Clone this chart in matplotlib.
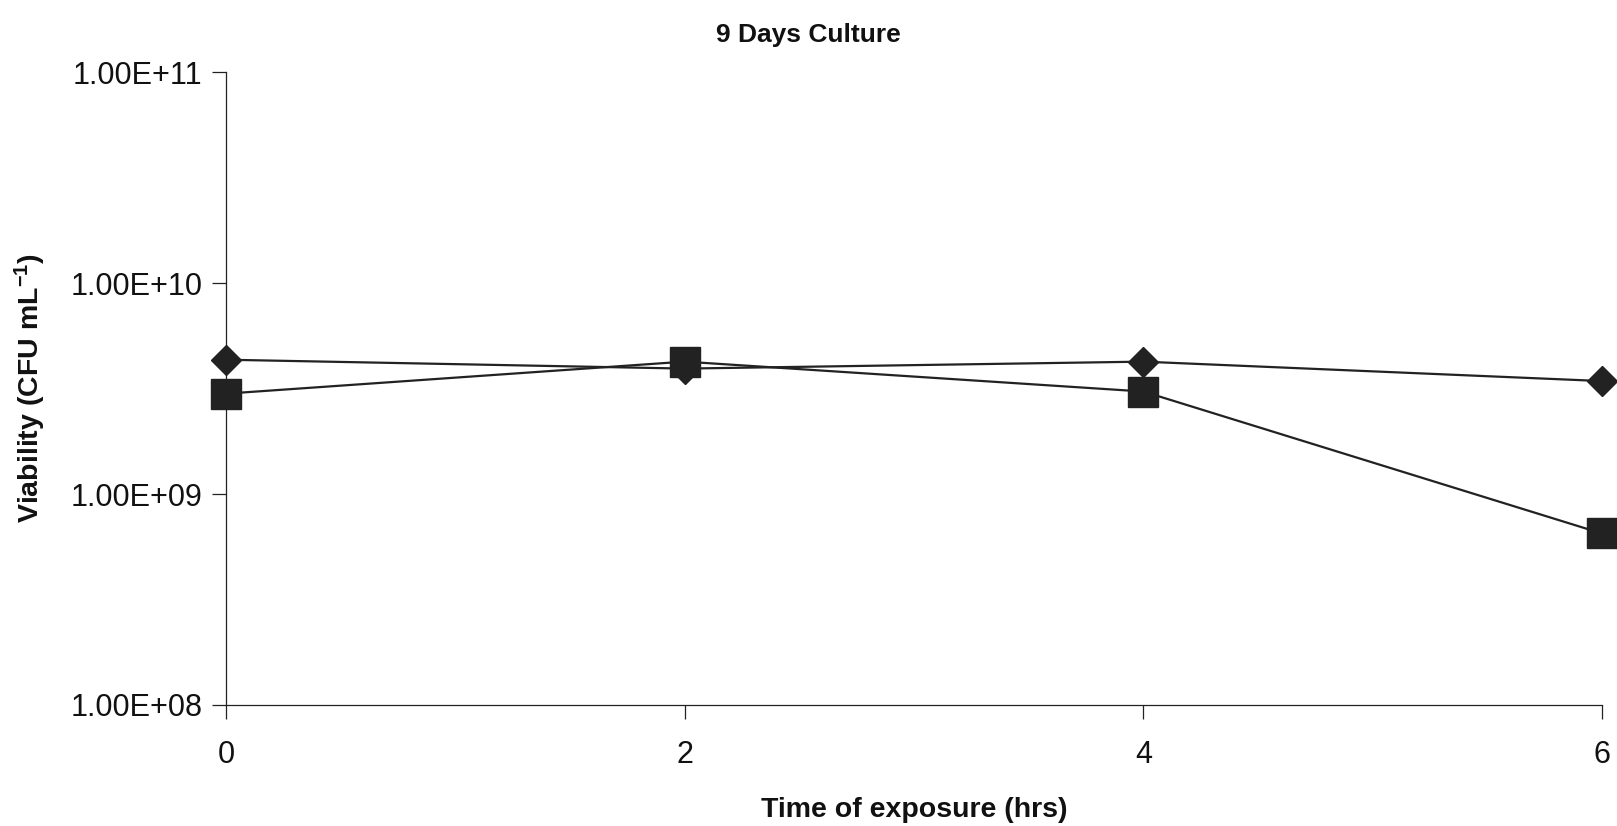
import matplotlib
matplotlib.use("Agg")
import matplotlib.pyplot as plt
from matplotlib.ticker import FixedLocator, FuncFormatter, NullLocator

# Viability over exposure time, 9-day culture
hours = [0, 2, 4, 6]
viability_a = [4.33e9, 3.93e9, 4.24e9, 3.43e9]   # diamonds
viability_b = [2.99e9, 4.24e9, 3.06e9, 6.5e8]    # squares
y_ticks = [1e8, 1e9, 1e10, 1e11]

plt.rcParams["font.family"] = ["Liberation Sans", "DejaVu Sans"]
plt.rcParams["mathtext.fontset"] = "custom"
plt.rcParams["mathtext.rm"] = "Liberation Sans:bold"
plt.rcParams["mathtext.default"] = "rm"

ink = "#222222"

fig = plt.figure(figsize=(16.17, 8.26), dpi=100)
ax = fig.add_axes([0.1398, 0.1465, 0.8509, 0.7663])

ax.plot(hours, viability_a, color=ink, lw=1.6, marker="D", ms=15.5,
        mfc=ink, mec=ink, clip_on=False, zorder=3)
ax.plot(hours, viability_b, color=ink, lw=1.6, marker="s", ms=21,
        mfc=ink, mec=ink, clip_on=False, zorder=3)

ax.set_yscale("log")
ax.set_ylim(1e8, 1e11)
ax.set_xlim(0, 6)
ax.yaxis.set_major_locator(FixedLocator(y_ticks))
ax.yaxis.set_minor_locator(NullLocator())
ax.yaxis.set_major_formatter(FuncFormatter(lambda v, _: f"{v:.2E}"))
ax.set_xticks(hours)

for side in ("top", "right"):
    ax.spines[side].set_visible(False)
for side in ("left", "bottom"):
    ax.spines[side].set_color(ink)
    ax.spines[side].set_linewidth(0.9)

ax.tick_params(axis="both", direction="out", length=10, width=0.9,
               color=ink, labelsize=22, labelcolor="#111111")
ax.tick_params(axis="x", pad=15)
ax.tick_params(axis="y", pad=7)

ax.set_xlabel("Time of exposure (hrs)", fontsize=20.5, fontweight="bold",
              color="#111111", labelpad=20)
ax.set_ylabel(r"Viability (CFU mL$^{-1}$)", fontsize=20.5,
              fontweight="bold", color="#111111", labelpad=16)

fig.text(0.5, 0.958, "9 Days Culture", ha="center", va="center",
         fontsize=19, fontweight="bold", color="#111111")

fig.savefig("out.png", dpi=100, facecolor="white")
